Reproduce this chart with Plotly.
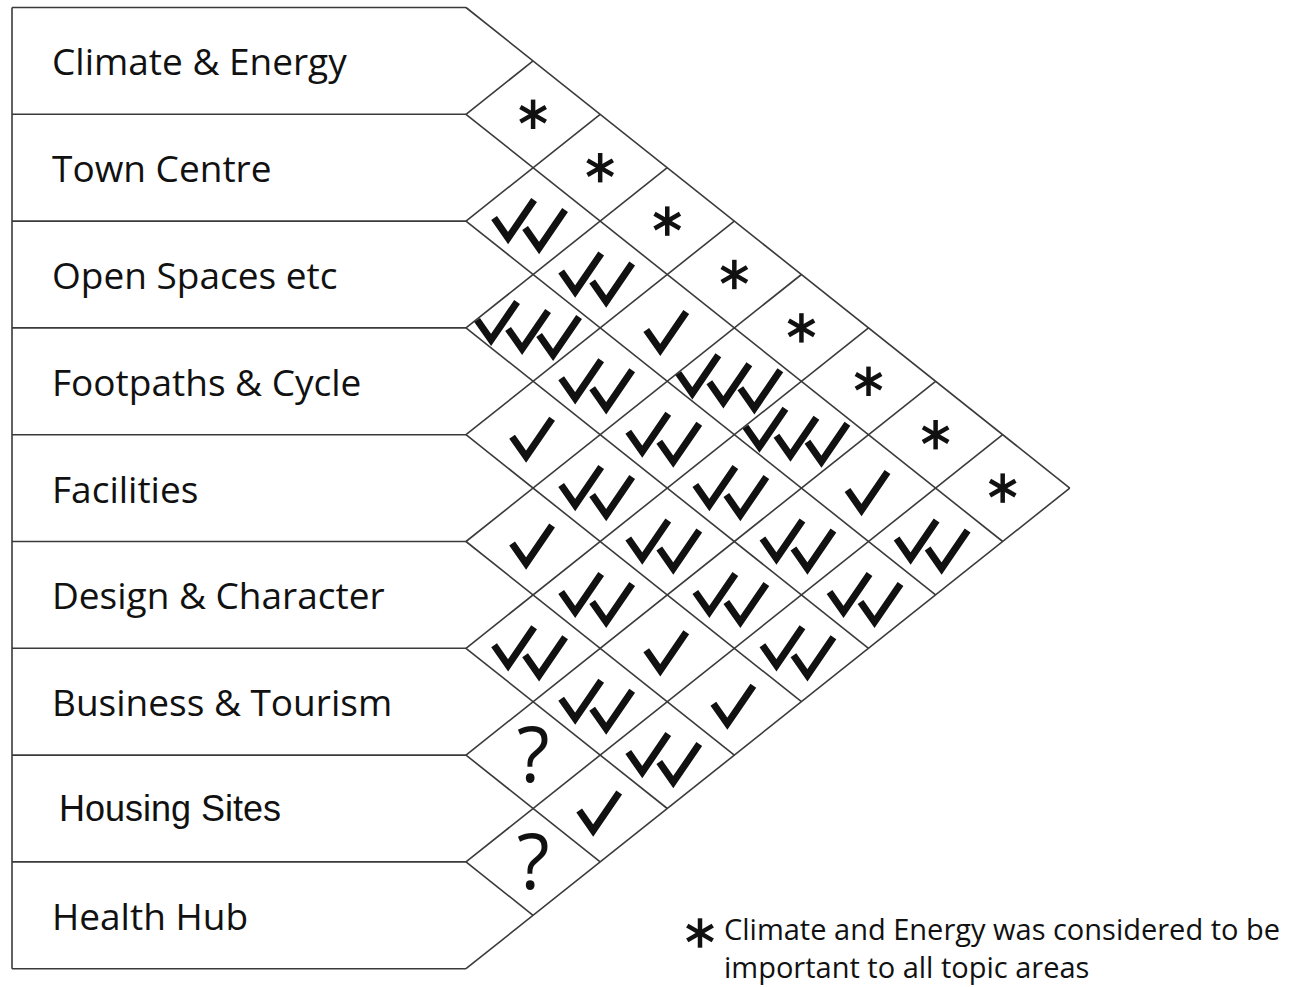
import plotly.graph_objects as go

# ---------------- data ----------------
topics = ["Climate & Energy", "Town Centre", "Open Spaces etc", "Footpaths & Cycle",
          "Facilities", "Design & Character", "Business & Tourism", "Housing Sites",
          "Health Hub"]

# links[i][k] = relationship between topics[i] and topics[i + 1 + k]
links = [
    ["*", "*", "*", "*", "*", "*", "*", "*"],
    ["✓✓", "✓✓", "✓", "✓✓✓", "✓✓✓", "✓", "✓✓"],
    ["✓✓✓", "✓✓", "✓✓", "✓✓", "✓✓", "✓✓"],
    ["✓", "✓✓", "✓✓", "✓✓", "✓✓"],
    ["✓", "✓✓", "✓", "✓"],
    ["✓✓", "✓✓", "✓✓"],
    ["?", "✓"],
    ["?"],
]

note_lines = ["Climate and Energy was considered to be", "important to all topic areas"]

# ---------------- geometry / style ----------------
W, H = 1290, 987
TOP, ROW_H = 7.5, 106.8
LEFT, TIP = 12, 466
SLOPE = 0.796
HALF_W = ROW_H / 2 / SLOPE
n = len(topics)
bounds = [TOP + k * ROW_H for k in range(n + 1)]
BOTTOM = bounds[-1]
LINE_COL = "#3a3a3a"
INK = "#111111"
LABEL_FONT = dict(family="Open Sans", size=37, color=INK)
SPECIAL_FONT = {"Housing Sites": (dict(family="Liberation Sans", size=36, color=INK), 57)}
Q_DY = 8


def cell_center(i, j):
    return TIP + (j - i) * HALF_W, TOP + ROW_H * ((i + j) / 2 + 0.5)


gx, gy = [], []


def seg(x0, y0, x1, y1):
    gx.extend([x0, x1, None])
    gy.extend([y0, y1, None])


seg(LEFT, TOP, LEFT, BOTTOM)
for b in bounds:
    seg(LEFT, b, TIP, b)
    if b < BOTTOM:
        seg(TIP, b, TIP + (BOTTOM - b) / 2 / SLOPE, (b + BOTTOM) / 2)
    if b > TOP:
        seg(TIP, b, TIP + (b - TOP) / 2 / SLOPE, (b + TOP) / 2)

CHECK_OFFSETS = {1: [(-7, 22)], 2: [(-25, 17), (6, 27)], 3: [(-42, 12), (-11, 21), (20, 27)]}
chk_x, chk_y = [], []
ast_x, ast_y = [], []
q_x, q_y, q_t = [], [], []
for i, row in enumerate(links):
    for k, sym in enumerate(row):
        j = i + 1 + k
        x, y = cell_center(i, j)
        if sym == "*":
            ast_x.append(x)
            ast_y.append(y)
        elif sym == "?":
            q_x.append(x)
            q_y.append(y + Q_DY)
            q_t.append(sym)
        else:
            for dx, dy in CHECK_OFFSETS[len(sym)]:
                bx, by = x + dx, y + dy
                chk_x += [bx - 14, bx, bx + 26, None]
                chk_y += [by - 20, by, by - 38, None]

# legend asterisk
NOTE_X, NOTE_Y = 722, 947
ast_x.append(700)
ast_y.append(933)

fig = go.Figure()
fig.add_trace(go.Scatter(x=gx, y=gy, mode="lines", line=dict(color=LINE_COL, width=1.6),
                         hoverinfo="skip"))
fig.add_trace(go.Scatter(x=chk_x, y=chk_y, mode="lines", line=dict(color=INK, width=7),
                         hoverinfo="skip"))
for ang in (0, 60, -60):
    fig.add_trace(go.Scatter(x=ast_x, y=ast_y, mode="markers", hoverinfo="skip",
                             marker=dict(symbol="line-ns-open", size=21, angle=ang,
                                         color=INK, line=dict(color=INK, width=4.5))))
fig.add_trace(go.Scatter(x=q_x, y=q_y, mode="text", text=q_t, textposition="middle center",
                         textfont=dict(family="Open Sans", size=76, color=INK),
                         hoverinfo="skip"))

for i, t in enumerate(topics):
    font, lx = SPECIAL_FONT.get(t, (LABEL_FONT, 50))
    fig.add_annotation(x=lx, y=TOP + ROW_H * (i + 0.5), text=t, showarrow=False,
                       xanchor="left", yanchor="middle", font=font)

fig.add_annotation(x=NOTE_X, y=NOTE_Y, text="<br>".join(note_lines), showarrow=False,
                   xanchor="left", yanchor="middle", align="left",
                   font=dict(family="Open Sans", size=29, color=INK))

fig.update_layout(width=W, height=H, autosize=False, showlegend=False,
                  margin=dict(l=0, r=0, t=0, b=0), paper_bgcolor="white",
                  plot_bgcolor="white",
                  xaxis=dict(range=[0, W], visible=False, fixedrange=True),
                  yaxis=dict(range=[H, 0], visible=False, fixedrange=True))

fig.write_html("out.html", config={"displayModeBar": False},
               post_script="document.body.style.margin='0';")
